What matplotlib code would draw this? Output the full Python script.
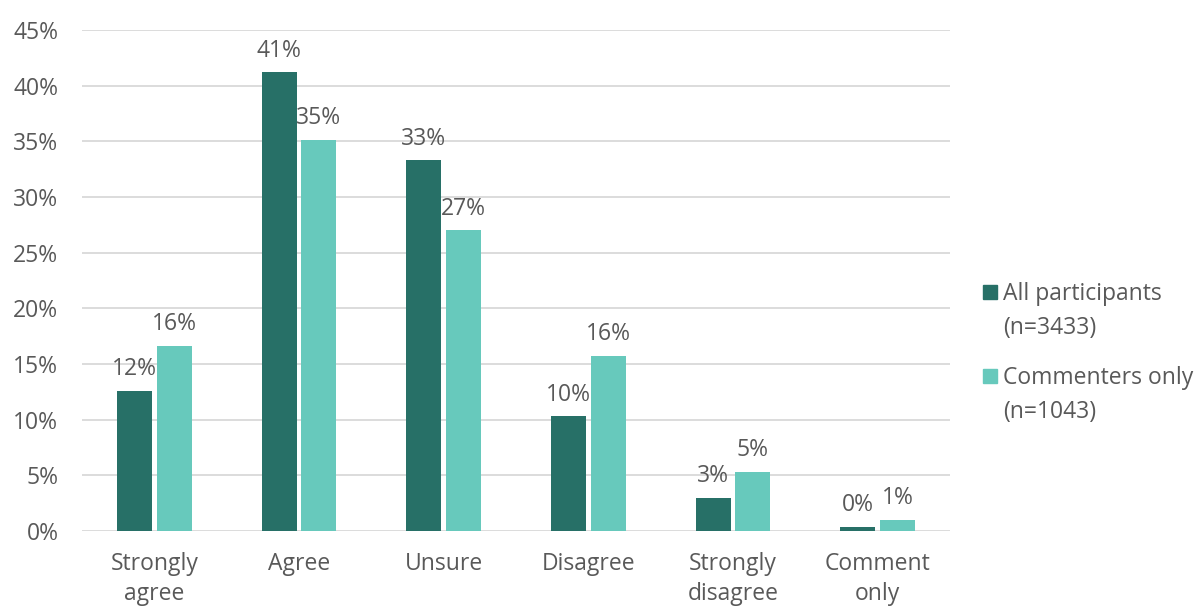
import matplotlib
matplotlib.use("Agg")
import matplotlib.pyplot as plt
import numpy as np
from matplotlib.patches import Rectangle

categories = ["Strongly\nagree", "Agree", "Unsure", "Disagree", "Strongly\ndisagree", "Comment\nonly"]
all_participants = [12.6, 41.2, 33.3, 10.3, 3.0, 0.4]
commenters_only = [16.6, 35.1, 27.0, 15.7, 5.3, 1.0]
all_labels = ["12%", "41%", "33%", "10%", "3%", "0%"]
comm_labels = ["16%", "35%", "27%", "16%", "5%", "1%"]
series_names = [["All participants", "(n=3433)"], ["Commenters only", "(n=1043)"]]

dark = "#277067"
light = "#67C9BC"
textc = "#595959"
gridc = "#D9D9D9"
FS = 16.5

plt.rcParams['font.family'] = ['Open Sans', 'DejaVu Sans']

W, H = 1198, 608
fig = plt.figure(figsize=(W/100, H/100), dpi=100)
ax = fig.add_axes([82/W, 1-531/H, (950-82)/W, (531-30)/H])

x = np.arange(len(categories))
w = 0.242
off = 0.138
b1 = ax.bar(x - off, all_participants, w, color=dark, zorder=3)
b2 = ax.bar(x + off, commenters_only, w, color=light, zorder=3)

for bars, labels in ((b1, all_labels), (b2, comm_labels)):
    for rect, lab in zip(bars, labels):
        ax.annotate(lab, (rect.get_x() + rect.get_width()/2, rect.get_height()),
                    xytext=(0, 7), textcoords="offset points", ha="center", va="bottom",
                    fontsize=FS, color=textc)

ax.set_xlim(-0.5, len(categories) - 0.5)
ax.set_ylim(0, 45)
ax.set_yticks(np.arange(0, 46, 5))
ax.set_yticklabels([f"{v}%" for v in range(0, 46, 5)])
ax.set_xticks(x)
ax.set_xticklabels(categories, linespacing=1.35)
ax.tick_params(axis="both", length=0, labelsize=FS, labelcolor=textc)
ax.tick_params(axis="y", pad=17)
ax.tick_params(axis="x", pad=15)
ax.grid(axis="y", color=gridc, linewidth=1.3, zorder=0)
for s in ax.spines.values():
    s.set_visible(False)

# legend (marker aligned with first text line, as in the reference)
legend_rows = [(292, dark, series_names[0]), (376, light, series_names[1])]
for yc, col, lines in legend_rows:
    fig.patches.append(Rectangle((983/W, 1-(yc+7)/H), 14/W, 14/H, color=col,
                                 transform=fig.transFigure, figure=fig))
    for i, line in enumerate(lines):
        fig.text(1003/W, 1-(yc + 34*i + 8)/H, line, fontsize=FS, color=textc,
                 ha="left", va="baseline")

fig.savefig("out.png", dpi=100)
